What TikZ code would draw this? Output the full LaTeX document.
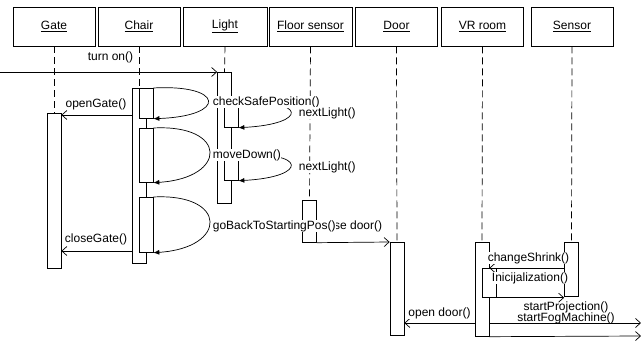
\documentclass[tikz,border=0pt]{standalone}
\usepackage{fontspec}
\setmainfont{Liberation Sans}
\usetikzlibrary{arrows.meta}
\tikzset{
  obj/.style={draw, minimum width=82pt, minimum height=39pt, inner sep=0pt},
  bar/.style={draw, fill=white, minimum width=14pt, inner sep=0pt, anchor=north},
  life/.style={dash pattern=on 7pt off 4pt},
  msg/.style={-{Straight Barb[length=5pt,width=9pt]}},
  selfcall/.style={-{Latex[length=6pt,width=5pt]}},
  lbl/.style={fill=white, inner sep=0.5pt}
}

\begin{document}
\begin{tikzpicture}[x=1pt, y=-1pt, line width=0.7pt, font=\fontsize{12}{14}\selectfont]
\useasboundingbox (0,0) rectangle (641,345);

% objects
\node[obj] (gate) at (54,26.5) {\underline{Gate}};
\node[obj] (chair) at (139,26.5) {\underline{Chair}};
\node[obj, minimum width=84pt] (light) at (225,26.5) {\underline{Light}};
\node[obj, minimum width=83pt] (floor) at (310.5,26.5) {\underline{Floor sensor}};
\node[obj] (door) at (396.5,26.5) {\underline{Door}};
\node[obj] (vr) at (482.5,26.5) {\underline{VR room}};
\node[obj] (sensor) at (572,26.5) {\underline{Sensor}};

% activations
\node[bar, minimum height=155pt] (gatebar) at (54,113) {};
\node[bar, minimum height=175pt] (chairbar) at (139,88) {};
\node[bar, minimum height=30pt] (chairn1) at (146,88) {};
\node[bar, minimum height=54pt] (chairn2) at (146,128) {};
\node[bar, minimum height=55pt] (chairn3) at (146,197) {};
\node[bar, minimum height=131pt] (lightbar) at (224.5,72) {};
\node[bar, minimum height=23pt] (lightn1) at (231,104) {};
\node[bar, minimum height=24pt] (lightn2) at (231,156) {};
\node[bar, minimum height=42pt] (floorbar) at (309.5,200) {};
\node[bar, minimum height=93pt] (doorbar) at (397,242) {};
\node[bar, minimum height=94pt] (vrbar) at (482,242) {};
\node[bar, minimum height=29pt] (vrn) at (489,268) {};
\node[bar, minimum height=54pt] (sensorbar) at (571.5,242) {};

% lifelines
\draw[life] (gate.south) -- (gatebar.north);
\draw[life] (chair.south) -- (chairbar.north);
\draw[life] (light.south) -- (lightbar.north);
\draw[life] (floor.south) -- (floorbar.north);
\draw[life] (door.south) -- (doorbar.north);
\draw[life] (vr.south) -- (vrbar.north);
\draw[life] (sensor.south) -- (sensorbar.north);

% messages
\coordinate (west) at (0,72);
\coordinate (east1) at (641,323);
\coordinate (east2) at (641,336);
\draw[msg] (west) -- (lightbar.north west);
\draw[msg] (chairbar.west |- 0,115) -- (gatebar.east |- 0,115);
\draw[msg] (chairbar.west |- 0,251) -- (gatebar.east |- 0,251);
\draw[selfcall] (chairn1.north east) .. controls (224,84) and (228,116) .. (chairn1.south east);
\draw[selfcall] (chairn2.north east) .. controls (228,124) and (228,178) .. (chairn2.south east);
\draw[selfcall] (chairn3.north east) .. controls (228,193) and (228,248) .. (chairn3.south east);
\draw[selfcall] (lightn1.north east) .. controls (306,98) and (310,124) .. (lightn1.south east);
\draw[selfcall] (lightn2.north east) .. controls (306,150) and (310,177) .. (lightn2.south east);
\draw[msg] (floorbar.south east) -- (doorbar.north west);
\draw[msg] (vrbar.west |- east1) -- (doorbar.east |- east1);
\draw[msg] (sensorbar.west |- 0,268) -- (vrbar.east |- 0,268);
\draw[msg] (vrn.south east) -- (sensorbar.west |- vrn.south east);
\draw[msg] (vrbar.east |- east1) -- (east1);
\draw[msg] (vrbar.south east) -- (east2);

% labels
\node[lbl] (tturn) at (110.5,57) {turn on()};
\node[lbl] (topen) at (96,104) {openGate()};
\node[lbl] (tclose) at (96,239) {closeGate()};
\node[lbl, anchor=west] (tcheck) at (212,102) {checkSafePosition()};
\node[lbl, anchor=west] (tnext1) at (298,113) {nextLight()};
\node[lbl, anchor=west] (tmove) at (212,155) {moveDown()};
\node[lbl, anchor=west] (tnext2) at (298,167) {nextLight()};
\node[lbl, anchor=east] (tdoor) at (383,226) {close door()};
\node[lbl, anchor=west] (tback) at (212,226) {goBackToStartingPos()};
\node[lbl] (topendoor) at (439.5,313) {open door()};
\node[lbl] (tshrink) at (528.5,258) {changeShrink()};
\node[lbl] (tinit) at (530,278) {Inicijalization()};
\node[inner sep=0pt] (tproj) at (566,307) {startProjection()};
\node[inner sep=0pt] (tfog) at (566,318) {startFogMachine()};
\end{tikzpicture}
\end{document}
